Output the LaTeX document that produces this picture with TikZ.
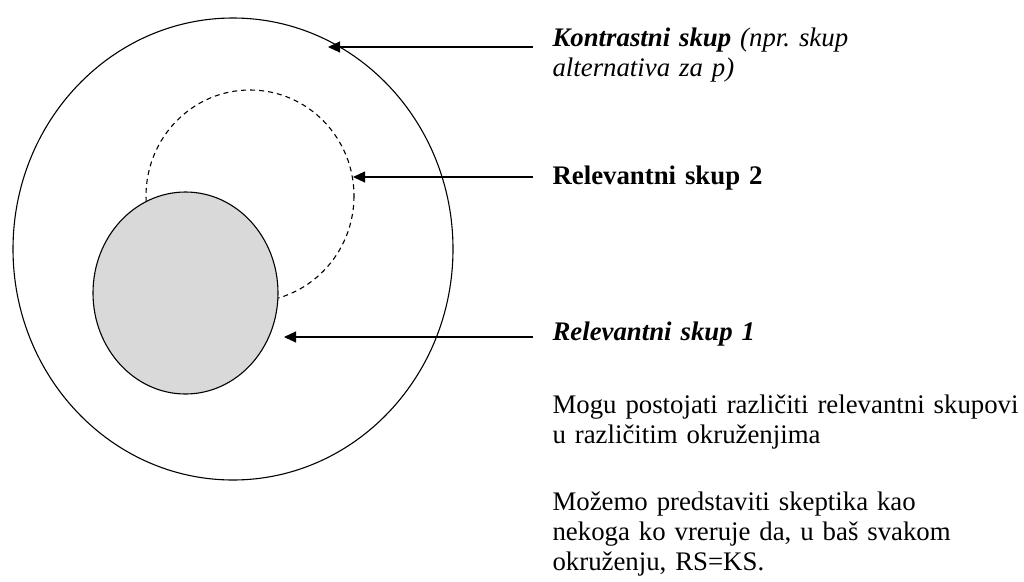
\documentclass[tikz,border=0pt]{standalone}
\usepackage{fontspec}
\setmainfont{Liberation Serif}
\usetikzlibrary{arrows.meta}
\frenchspacing

\begin{document}
\begin{tikzpicture}[x=1pt, y=-1pt, line width=1.1pt, >={Triangle[length=12pt,width=11pt]},
    lbl/.style={anchor=base west, inner sep=0pt, text width=520pt, align=left, font=\fontsize{26.8}{30}\selectfont}]
    \useasboundingbox (0,0) rectangle (1024,581);
    % skupovi
    \draw (233,249) ellipse [x radius=220, y radius=231];
    \draw[dash pattern=on 5pt off 4pt] (250,196) ellipse [x radius=104, y radius=106];
    \draw[fill=gray!30] (185.5,293) ellipse [x radius=92.5, y radius=101];
    \coordinate (kstip) at (328,47);
    \coordinate (rs2tip) at (353,177);
    \coordinate (rs1tip) at (284,337);
    % tekst
    \node[lbl] (ks) at (552,46) {\textbf{\textit{Kontrastni skup}} \textit{(npr. skup}\\\textit{alternativa za p)}};
    \node[lbl] (rs2) at (552,184) {\textbf{Relevantni skup 2}};
    \node[lbl] (rs1) at (552,340) {\textbf{\textit{Relevantni skup 1}}};
    \node[lbl] (n1) at (552,413) {Mogu postojati različiti relevantni skupovi\\u različitim okruženjima};
    \node[lbl] (n2) at (552,510) {Možemo predstaviti skeptika kao\\nekoga ko vreruje da, u baš svakom\\okruženju, RS=KS.};
    % strelice
    \draw[<-] (kstip) -- ([xshift=-19pt]kstip -| ks.west);
    \draw[<-] (rs2tip) -- ([xshift=-19pt]rs2tip -| rs2.west);
    \draw[<-] (rs1tip) -- ([xshift=-19pt]rs1tip -| rs1.west);
\end{tikzpicture}
\end{document}
